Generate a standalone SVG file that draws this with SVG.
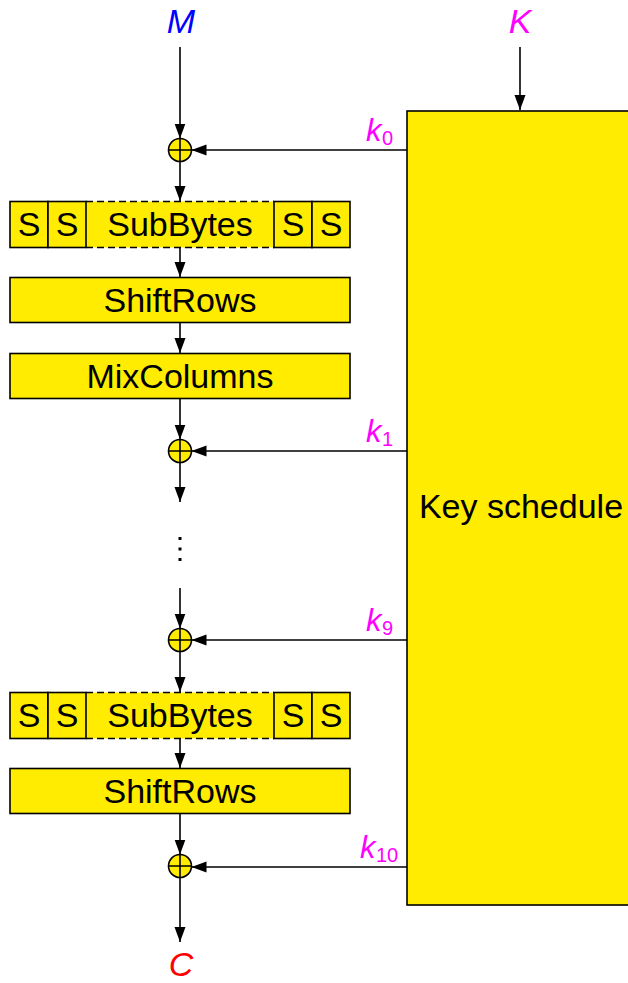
<svg xmlns="http://www.w3.org/2000/svg" width="628" height="983" viewBox="0 0 628 983">
  <defs>
    <marker id="arrow" markerUnits="userSpaceOnUse" markerWidth="16" markerHeight="12" refX="15" refY="5.5" orient="auto">
      <path d="M0,0 L15,5.5 L0,11 Z" fill="#000"/>
    </marker>
    <style>
      .box { fill: #ffec00; stroke: #000; stroke-width: 1.6; }
      .fill { fill: #ffec00; stroke: none; }
      .dash { stroke: #000; stroke-width: 1.6; stroke-dasharray: 7 4; fill: none; }
      .lbl { font-family: "Liberation Sans", Arial, sans-serif; font-size: 34px; fill: #000; text-anchor: middle; }
      .math { font-family: "Liberation Sans", Arial, sans-serif; font-style: italic; font-size: 34px; text-anchor: middle; }
      .key { font-family: "Liberation Sans", Arial, sans-serif; font-style: italic; font-size: 31px; fill: #ff00ff; }
      .sub { font-family: "Liberation Sans", Arial, sans-serif; font-size: 20px; fill: #ff00ff; }
      .xor circle { fill: #ffec00; stroke: #000; stroke-width: 1.6; }
      .xor path { stroke: #000; stroke-width: 1.6; fill: none; }
      .conn line { stroke: #000; stroke-width: 1.6; marker-end: url(#arrow); }
    </style>
  </defs>

  <rect width="628" height="983" fill="#fff"/>

  <!-- key schedule block (runs off the right edge) -->
  <g id="keyschedule">
    <rect class="box" x="407" y="111" width="240" height="794"/>
    <text class="lbl" x="521" y="518">Key schedule</text>
  </g>

  <!-- inputs / outputs -->
  <g id="msg"><text class="math" x="181" y="33" fill="#0000ff">M</text></g>
  <g id="keyin"><text class="math" x="520" y="33" fill="#ff00ff">K</text></g>
  <g id="cipher"><text class="math" x="181" y="976" fill="#ff0000">C</text></g>

  <!-- round key labels -->
  <g id="k0"><text class="key" x="366" y="141">k</text><text class="sub" x="382" y="145">0</text></g>
  <g id="k1"><text class="key" x="366" y="442">k</text><text class="sub" x="382" y="446">1</text></g>
  <g id="k9"><text class="key" x="366" y="631">k</text><text class="sub" x="382" y="635">9</text></g>
  <g id="k10"><text class="key" x="360" y="858">k</text><text class="sub" x="376" y="862">10</text></g>

  <!-- XOR nodes -->
  <g id="xor0" class="xor"><circle cx="180" cy="150" r="11.5"/><path d="M168.5,150 H191.5 M180,138.5 V161.5"/></g>
  <g id="xor1" class="xor"><circle cx="180" cy="451" r="11.5"/><path d="M168.5,451 H191.5 M180,439.5 V462.5"/></g>
  <g id="xor9" class="xor"><circle cx="180" cy="640" r="11.5"/><path d="M168.5,640 H191.5 M180,628.5 V651.5"/></g>
  <g id="xor10" class="xor"><circle cx="180" cy="866" r="11.5"/><path d="M168.5,866 H191.5 M180,854.5 V877.5"/></g>

  <!-- round 1 -->
  <g id="subbytes1">
    <rect class="fill" x="10" y="201.5" width="340" height="46"/>
    <line class="dash" x1="86" y1="201.5" x2="274" y2="201.5"/>
    <line class="dash" x1="86" y1="247.5" x2="274" y2="247.5"/>
    <rect class="box" x="10" y="201.5" width="38" height="46"/>
    <rect class="box" x="48" y="201.5" width="38" height="46"/>
    <rect class="box" x="274" y="201.5" width="38" height="46"/>
    <rect class="box" x="312" y="201.5" width="38" height="46"/>
    <text class="lbl" x="29" y="236">S</text>
    <text class="lbl" x="67" y="236">S</text>
    <text class="lbl" x="180" y="236">SubBytes</text>
    <text class="lbl" x="293" y="236">S</text>
    <text class="lbl" x="331" y="236">S</text>
  </g>
  <g id="shiftrows1">
    <rect class="box" x="10" y="277.5" width="340" height="45"/>
    <text class="lbl" x="180" y="312">ShiftRows</text>
  </g>
  <g id="mixcolumns">
    <rect class="box" x="10" y="353.5" width="340" height="45"/>
    <text class="lbl" x="180" y="388">MixColumns</text>
  </g>

  <!-- elided rounds -->
  <g id="ellipsis" fill="#000">
    <rect x="178.5" y="537" width="3" height="3"/>
    <rect x="178.5" y="547.5" width="3" height="3"/>
    <rect x="178.5" y="558" width="3" height="3"/>
  </g>

  <!-- final round -->
  <g id="subbytes2">
    <rect class="fill" x="10" y="692.5" width="340" height="46"/>
    <line class="dash" x1="86" y1="692.5" x2="274" y2="692.5"/>
    <line class="dash" x1="86" y1="738.5" x2="274" y2="738.5"/>
    <rect class="box" x="10" y="692.5" width="38" height="46"/>
    <rect class="box" x="48" y="692.5" width="38" height="46"/>
    <rect class="box" x="274" y="692.5" width="38" height="46"/>
    <rect class="box" x="312" y="692.5" width="38" height="46"/>
    <text class="lbl" x="29" y="727">S</text>
    <text class="lbl" x="67" y="727">S</text>
    <text class="lbl" x="180" y="727">SubBytes</text>
    <text class="lbl" x="293" y="727">S</text>
    <text class="lbl" x="331" y="727">S</text>
  </g>
  <g id="shiftrows2">
    <rect class="box" x="10" y="768.5" width="340" height="45"/>
    <text class="lbl" x="180" y="803">ShiftRows</text>
  </g>

  <!-- connectors -->
  <g id="connectors" class="conn">
    <line x1="180" y1="47" x2="180" y2="138.5"/>
    <line x1="180" y1="161.5" x2="180" y2="201"/>
    <line x1="180" y1="248" x2="180" y2="277"/>
    <line x1="180" y1="323" x2="180" y2="353"/>
    <line x1="180" y1="399" x2="180" y2="439.5"/>
    <line x1="180" y1="462.5" x2="180" y2="502"/>
    <line x1="180" y1="588" x2="180" y2="628.5"/>
    <line x1="180" y1="651.5" x2="180" y2="692"/>
    <line x1="180" y1="739" x2="180" y2="768"/>
    <line x1="180" y1="814" x2="180" y2="854.5"/>
    <line x1="180" y1="877.5" x2="180" y2="942"/>
    <line x1="520" y1="47" x2="520" y2="110"/>
    <line x1="407" y1="150" x2="191.5" y2="150"/>
    <line x1="407" y1="451" x2="191.5" y2="451"/>
    <line x1="407" y1="640" x2="191.5" y2="640"/>
    <line x1="407" y1="867" x2="191.5" y2="867"/>
  </g>
</svg>
